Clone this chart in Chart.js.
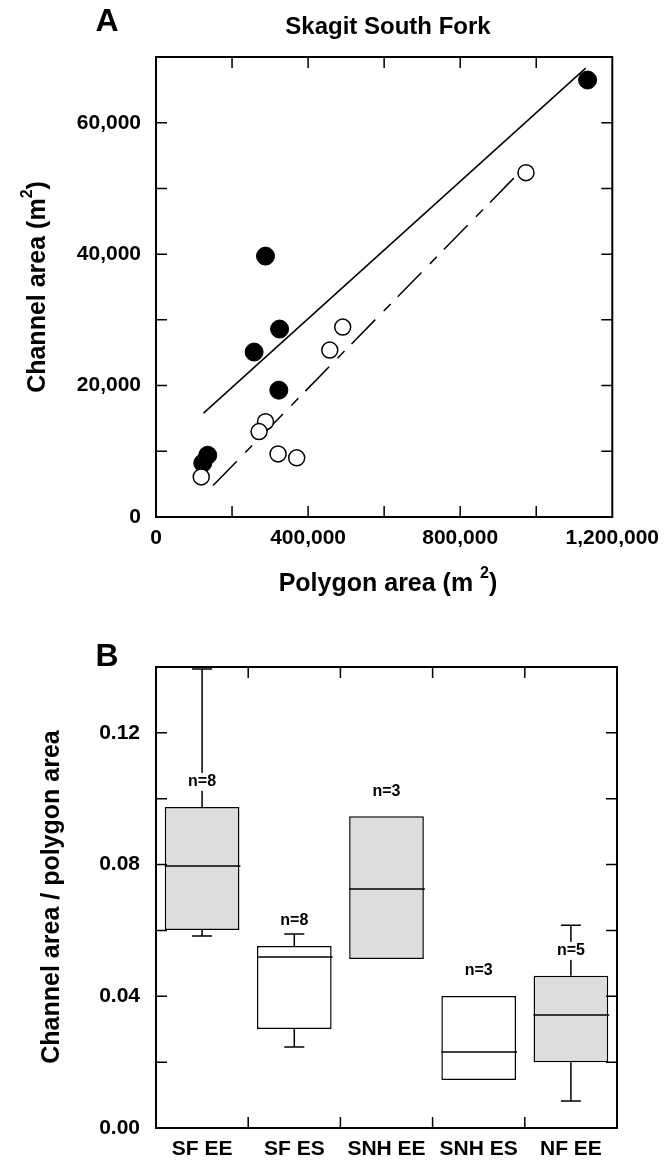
<!DOCTYPE html>
<html>
<head>
<meta charset="utf-8">
<script src="https://cdn.jsdelivr.net/npm/chart.js@4.4.1/dist/chart.umd.min.js"></script>
<style>
  html, body { margin: 0; padding: 0; background: #fff; }
  #wrap { position: relative; width: 668px; height: 1162px; }
  #chartA { position: absolute; left: 0; top: 0; }
  #chartB { position: absolute; left: 0; top: 600px; }
</style>
</head>
<body>
<div id="wrap">
  <canvas id="chartA" width="668" height="600"></canvas>
  <canvas id="chartB" width="668" height="562"></canvas>
</div>
<script>
// --- Panel A: channel area vs polygon area (m2) ---
const filledPolygon = [1135000, 288000, 325000, 258000, 323000, 136000, 123000];
const filledChannel = [66500, 39700, 28600, 25100, 19300, 9400, 8200];
const openPolygon = [973000, 491000, 457000, 288000, 271000, 321000, 370000, 119000];
const openChannel = [52400, 28900, 25400, 14500, 13000, 9600, 9000, 6100];
// fitted lines, end points
const solidFitX = [125000, 1130000];
const solidFitY = [15800, 68300];
const dashFitX = [150000, 955000];
const dashFitY = [4800, 52400];

// --- Panel B: channel area / polygon area ---
const categories = ["SF EE", "SF ES", "SNH EE", "SNH ES", "NF EE"];
const whiskerLow = [0.0583, 0.0246, null, null, 0.0082];
const q1 = [0.0601, 0.0301, 0.0513, 0.0146, 0.0200];
const median = [0.0796, 0.0519, 0.0726, 0.0231, 0.0343];
const q3 = [0.0975, 0.0553, 0.0947, 0.0401, 0.0462];
const whiskerHigh = [0.1394, 0.0589, null, null, 0.0616];
const sampleSize = [8, 8, 3, 3, 5];
const shaded = [true, false, true, false, true];

const fontFam = '"Liberation Sans", Arial, Helvetica, sans-serif';
const tickFont = { family: fontFam, size: 21, weight: "bold" };

function toPoints(xs, ys) {
    return xs.map((x, i) => ({ x: x, y: ys[i] }));
}

// draws text made of parts (text, size, dy) centred on x,y, optionally rotated
function partsText(ctx, parts, x, y, rot) {
    ctx.save();
    ctx.translate(x, y);
    ctx.rotate(rot || 0);
    ctx.fillStyle = "#000";
    ctx.textBaseline = "middle";
    ctx.textAlign = "left";
    let total = 0;
    parts.forEach(p => {
        ctx.font = "bold " + p[1] + "px " + fontFam;
        total += ctx.measureText(p[0]).width;
    });
    let cx = -total / 2;
    parts.forEach(p => {
        ctx.font = "bold " + p[1] + "px " + fontFam;
        ctx.fillText(p[0], cx, p[2]);
        cx += ctx.measureText(p[0]).width;
    });
    ctx.restore();
}

// frame with inward ticks on all four sides
const framePlugin = {
    id: "frame",
    afterDraw(chart, args, opts) {
        const { ctx, chartArea: a } = chart;
        const xs = chart.scales.x, ys = chart.scales.y;
        const L = 11;
        ctx.save();
        ctx.strokeStyle = "#000";
        ctx.lineWidth = 1.5;
        ctx.beginPath();
        ys.ticks.forEach(t => {
            const y = ys.getPixelForValue(t.value);
            if (Math.abs(y - a.top) < 1 || Math.abs(y - a.bottom) < 1) return;
            ctx.moveTo(a.left, y); ctx.lineTo(a.left + L, y);
            ctx.moveTo(a.right, y); ctx.lineTo(a.right - L, y);
        });
        let xp = [];
        if (opts.boundaries) {
            for (let i = 0; i < xs.ticks.length - 1; i++) {
                xp.push((xs.getPixelForTick(i) + xs.getPixelForTick(i + 1)) / 2);
            }
        } else {
            xp = xs.ticks.map(t => xs.getPixelForValue(t.value));
        }
        xp.forEach(x => {
            if (Math.abs(x - a.left) < 1 || Math.abs(x - a.right) < 1) return;
            ctx.moveTo(x, a.bottom); ctx.lineTo(x, a.bottom - L);
            ctx.moveTo(x, a.top); ctx.lineTo(x, a.top + L);
        });
        ctx.stroke();
        ctx.lineWidth = 2;
        ctx.strokeRect(a.left, a.top, a.width, a.height);
        ctx.restore();
    }
};

const labelsA = {
    id: "labelsA",
    afterDraw(chart) {
        const ctx = chart.ctx;
        ctx.save();
        ctx.fillStyle = "#000";
        ctx.textAlign = "center";
        ctx.textBaseline = "middle";
        ctx.font = "bold 32px " + fontFam;
        ctx.fillText("A", 107, 22);
        ctx.font = "bold 24px " + fontFam;
        ctx.fillText("Skagit South Fork", 388, 27);
        ctx.restore();
        partsText(ctx, [["Channel area (m", 25, 0], ["2", 16, -10], [")", 25, 0]], 38, 287, -Math.PI / 2);
        partsText(ctx, [["Polygon area (m ", 25, 0], ["2", 16, -10], [")", 25, 0]], 388, 584, 0);
    }
};

new Chart(document.getElementById("chartA"), {
    type: "scatter",
    data: {
        datasets: [
            {
                label: "open",
                data: toPoints(openPolygon, openChannel),
                pointRadius: 8,
                pointBackgroundColor: "#fff",
                pointBorderColor: "#000",
                pointBorderWidth: 1.5
            },
            {
                label: "filled",
                data: toPoints(filledPolygon, filledChannel),
                pointRadius: 9,
                pointBackgroundColor: "#000",
                pointBorderColor: "#000",
                pointBorderWidth: 1
            },
            {
                label: "fit filled",
                data: toPoints(solidFitX, solidFitY),
                showLine: true,
                pointRadius: 0,
                borderColor: "#000",
                borderWidth: 1.5
            },
            {
                label: "fit open",
                data: toPoints(dashFitX, dashFitY),
                showLine: true,
                pointRadius: 0,
                borderColor: "#000",
                borderWidth: 1.5,
                borderDash: [34, 12, 10, 10]
            }
        ]
    },
    options: {
        responsive: false,
        animation: false,
        layout: { padding: { left: 0, right: 51, top: 57, bottom: 0 } },
        plugins: { legend: { display: false }, tooltip: { enabled: false }, frame: {} },
        scales: {
            x: {
                type: "linear",
                min: 0, max: 1200000,
                grid: { display: false, drawTicks: false },
                border: { display: false },
                afterFit: s => { s.height = 83; },
                ticks: {
                    stepSize: 200000,
                    autoSkip: false,
                    maxRotation: 0,
                    padding: 9,
                    color: "#000",
                    font: tickFont,
                    callback: v => (v % 400000 === 0 ? v.toLocaleString("en-US") : "")
                }
            },
            y: {
                min: 0, max: 70000,
                grid: { display: false, drawTicks: false },
                border: { display: false },
                afterFit: s => { s.width = 156; },
                ticks: {
                    stepSize: 10000,
                    autoSkip: false,
                    padding: 15,
                    color: "#000",
                    font: tickFont,
                    callback: v => (v % 20000 === 0 ? v.toLocaleString("en-US") : "")
                }
            }
        }
    },
    plugins: [framePlugin, labelsA]
});

// boxes: median, whiskers and n labels
const boxExtras = {
    id: "boxExtras",
    afterDatasetsDraw(chart) {
        const ctx = chart.ctx;
        const ys = chart.scales.y;
        const meta = chart.getDatasetMeta(0);
        ctx.save();
        ctx.strokeStyle = "#000";
        ctx.lineWidth = 1.5;
        meta.data.forEach((bar, i) => {
            const x = bar.x, w = bar.width;
            const cap = 10;
            ctx.beginPath();
            const ym = ys.getPixelForValue(median[i]);
            ctx.moveTo(x - w / 2, ym); ctx.lineTo(x + w / 2 + 1, ym);
            if (whiskerHigh[i] != null) {
                const y3 = ys.getPixelForValue(q3[i]), yh = ys.getPixelForValue(whiskerHigh[i]);
                ctx.moveTo(x, y3); ctx.lineTo(x, yh);
                ctx.moveTo(x - cap, yh); ctx.lineTo(x + cap, yh);
            }
            if (whiskerLow[i] != null) {
                const y1 = ys.getPixelForValue(q1[i]), yl = ys.getPixelForValue(whiskerLow[i]);
                ctx.moveTo(x, y1); ctx.lineTo(x, yl);
                ctx.moveTo(x - cap, yl); ctx.lineTo(x + cap, yl);
            }
            ctx.stroke();
        });
        ctx.font = "bold 16px " + fontFam;
        ctx.textAlign = "center";
        ctx.textBaseline = "middle";
        meta.data.forEach((bar, i) => {
            const txt = "n=" + sampleSize[i];
            const ly = ys.getPixelForValue(q3[i]) - 25;
            const tw = ctx.measureText(txt).width;
            ctx.fillStyle = "#fff";
            ctx.fillRect(bar.x - tw / 2 - 2, ly - 9, tw + 4, 18);
            ctx.fillStyle = "#000";
            ctx.fillText(txt, bar.x, ly);
        });
        ctx.restore();
    }
};

const labelsB = {
    id: "labelsB",
    afterDraw(chart) {
        const ctx = chart.ctx;
        ctx.save();
        ctx.fillStyle = "#000";
        ctx.textAlign = "center";
        ctx.textBaseline = "middle";
        ctx.font = "bold 32px " + fontFam;
        ctx.fillText("B", 107, 57);
        ctx.restore();
        partsText(ctx, [["Channel area / polygon area", 25, 0]], 52, 297, -Math.PI / 2);
    }
};

new Chart(document.getElementById("chartB"), {
    type: "bar",
    data: {
        labels: categories,
        datasets: [{
            data: q1.map((v, i) => [v, q3[i]]),
            backgroundColor: shaded.map(s => (s ? "#dcdddc" : "#ffffff")),
            borderColor: "#000",
            borderWidth: 1.5,
            borderSkipped: false,
            barPercentage: 0.81,
            categoryPercentage: 1.0
        }]
    },
    options: {
        responsive: false,
        animation: false,
        layout: { padding: { left: 0, right: 51, top: 67, bottom: 0 } },
        plugins: { legend: { display: false }, tooltip: { enabled: false }, frame: { boundaries: true } },
        scales: {
            x: {
                grid: { display: false, drawTicks: false },
                border: { display: false },
                afterFit: s => { s.height = 34; },
                ticks: { padding: 9, color: "#000", font: tickFont, maxRotation: 0, autoSkip: false }
            },
            y: {
                min: 0, max: 0.14,
                grid: { display: false, drawTicks: false },
                border: { display: false },
                afterFit: s => { s.width = 156; },
                ticks: {
                    stepSize: 0.02,
                    autoSkip: false,
                    padding: 16,
                    color: "#000",
                    font: tickFont,
                    callback: v => (Math.round(v * 100) % 4 === 0 ? v.toFixed(2) : "")
                }
            }
        }
    },
    plugins: [framePlugin, boxExtras, labelsB]
});
</script>
</body>
</html>
